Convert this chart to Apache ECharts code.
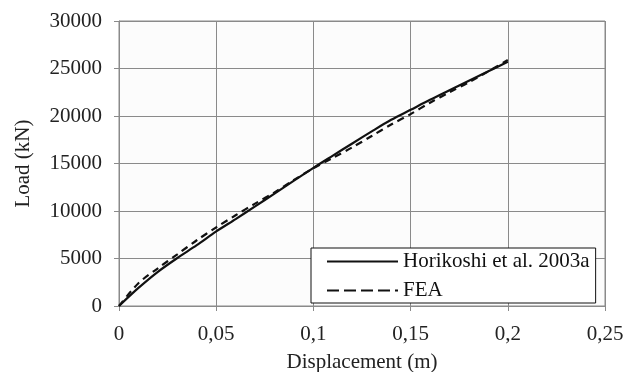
<!DOCTYPE html>
<html>
<head>
<meta charset="utf-8">
<script src="https://cdn.jsdelivr.net/npm/echarts@6/dist/echarts.min.js"></script>
<style>
html,body{margin:0;padding:0;background:#fff;}
#chart{width:626px;height:372px;}
</style>
</head>
<body>
<div id="chart"></div>
<script>
// Data (displacement in m, load in kN)
var displacement = [0, 0.01, 0.02, 0.03, 0.04, 0.05, 0.06, 0.07, 0.08, 0.09, 0.10, 0.11, 0.12, 0.13, 0.14, 0.15, 0.16, 0.17, 0.18, 0.19, 0.20];
var horikoshiLoad = [0, 1900, 3600, 5050, 6400, 7850, 9150, 10480, 11830, 13190, 14540, 15830, 17110, 18380, 19600, 20650, 21700, 22700, 23700, 24700, 25700];
var feaLoad = [0, 2400, 3970, 5440, 6920, 8280, 9550, 10780, 11950, 13270, 14500, 15600, 16700, 17900, 19100, 20200, 21400, 22500, 23550, 24700, 25900];
var xTickLabels = ['0', '0,05', '0,1', '0,15', '0,2', '0,25'];
var yTickLabels = ['0', '5000', '10000', '15000', '20000', '25000', '30000'];
var seriesNames = ['Horikoshi et al. 2003a', 'FEA'];

function pairs(xs, ys) {
  return xs.map(function (x, i) { return [x, ys[i]]; });
}

var FONT = 'Liberation Serif';
var chart = echarts.init(document.getElementById('chart'), null, {renderer: 'canvas'});
chart.setOption({
  backgroundColor: '#ffffff',
  animation: false,
  grid: {
    left: 119, right: 21, top: 21, bottom: 66,
    containLabel: false, outerBoundsMode: 'none',
    show: true, backgroundColor: '#fcfcfc', borderColor: '#8a8a8a', borderWidth: 1
  },
  xAxis: {
    type: 'value', min: 0, max: 0.25, interval: 0.05,
    name: 'Displacement (m)', nameLocation: 'middle', nameGap: 46,
    nameTextStyle: {fontFamily: FONT, fontSize: 21, color: '#222'},
    axisLine: {show: true, lineStyle: {color: '#8a8a8a', width: 1}},
    axisTick: {show: true, inside: false, length: 5, lineStyle: {color: '#8a8a8a'}},
    axisLabel: {
      fontFamily: FONT, fontSize: 21, color: '#222', margin: 18,
      formatter: function (v) { return xTickLabels[Math.round(v / 0.05)]; }
    },
    splitLine: {show: true, lineStyle: {color: '#8a8a8a', width: 1}}
  },
  yAxis: {
    type: 'value', min: 0, max: 30000, interval: 5000,
    name: 'Load (kN)', nameLocation: 'middle', nameGap: 85, nameRotate: 90,
    nameTextStyle: {fontFamily: FONT, fontSize: 21, color: '#222'},
    axisLine: {show: true, lineStyle: {color: '#8a8a8a', width: 1}},
    axisTick: {show: true, inside: false, length: 5, lineStyle: {color: '#8a8a8a'}},
    axisLabel: {
      fontFamily: FONT, fontSize: 21, color: '#222', margin: 17,
      formatter: function (v) { return yTickLabels[Math.round(v / 5000)]; }
    },
    splitLine: {show: true, lineStyle: {color: '#8a8a8a', width: 1}}
  },
  legend: {
    left: 311, top: 248, orient: 'vertical',
    backgroundColor: '#ffffff', borderColor: '#111', borderWidth: 1,
    padding: [3, 6, 2, 15],
    itemWidth: 71, itemHeight: 20, itemGap: 8,
    itemStyle: {color: 'rgba(0,0,0,0)', borderColor: 'rgba(0,0,0,0)', borderWidth: 0, opacity: 0},
    textStyle: {fontFamily: FONT, fontSize: 21, color: '#111', lineHeight: 20},
    data: [
      {name: seriesNames[0]},
      {name: seriesNames[1], lineStyle: {type: [12, 5]}}
    ]
  },
  series: [
    {
      name: seriesNames[0], type: 'line', symbol: 'none', smooth: 0.3,
      data: pairs(displacement, horikoshiLoad),
      lineStyle: {color: '#111', width: 2.2, type: 'solid'},
      itemStyle: {color: '#111'}
    },
    {
      name: seriesNames[1], type: 'line', symbol: 'none', smooth: 0.3,
      data: pairs(displacement, feaLoad),
      lineStyle: {color: '#111', width: 2.2, type: [7, 5]},
      itemStyle: {color: '#111'}
    }
  ]
});
</script>
</body>
</html>
